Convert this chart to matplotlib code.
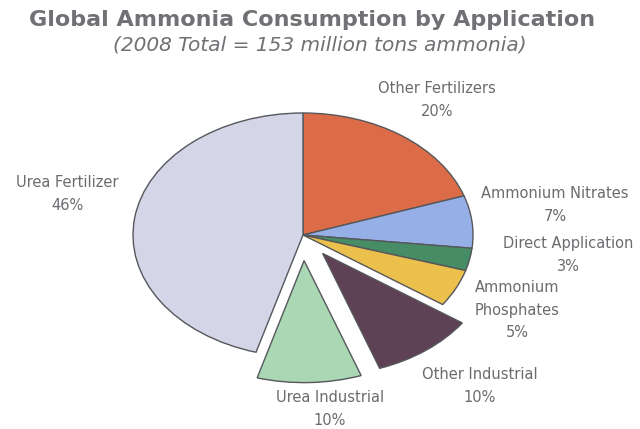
import matplotlib.pyplot as plt

# ammonia consumption shares (percent), clockwise from 12 o'clock
apps = ["Other Fertilizers", "Ammonium Nitrates", "Direct Application",
        "Ammonium Phosphates", "Other Industrial", "Urea Industrial",
        "Urea Fertilizer"]
shares = [20, 7, 3, 5, 10, 10, 46]
label_text = ["Other Fertilizers", "Ammonium Nitrates", "Direct Application",
              "Ammonium\nPhosphates", "Other Industrial", "Urea Industrial",
              "Urea Fertilizer"]

colors = ["#dc6c48", "#96afe6", "#468c64", "#ecc04c",
          "#5f4155", "#aad7b4", "#d4d6e8"]
explode = [0, 0, 0, 0, 0.19, 0.21, 0]

# label centres in pixels (x, y from top)
label_pos = [(437, 100), (555, 205), (568, 255), (517, 310),
             (480, 386), (330, 409), (67, 194)]

W, H = 640, 429
fig = plt.figure(figsize=(W / 100, H / 100), dpi=100)
fig.patch.set_facecolor("white")

ax = fig.add_axes([0, 0, 1, 1])
ax.pie(shares, colors=colors, explode=explode, startangle=90,
       counterclock=False,
       wedgeprops=dict(edgecolor="#55575c", linewidth=1.0))

# squash the pie into an ellipse: 1 unit = 170 px wide, 122 px tall
cx, cy = 303, 235
rx, ry = 170, 122
ax.set_aspect("auto")
ax.set_xlim(-cx / rx, (W - cx) / rx)
ax.set_ylim(-(H - cy) / ry, cy / ry)
ax.axis("off")

txt_color = "#6b6b70"
font = ["DejaVu Sans"]

for name, pct, (px, py) in zip(label_text, shares, label_pos):
    fig.text(px / W, 1 - py / H, f"{name}\n{pct}%", ha="center", va="center",
             fontsize=10.5, color=txt_color, family=font, linespacing=1.6,
             multialignment="center")

fig.text(312 / W, 1 - 20 / H, "Global Ammonia Consumption by Application",
         ha="center", va="center", fontsize=16, fontweight="bold",
         color="#707075", family=font)
fig.text(320 / W, 1 - 45 / H, "(2008 Total = 153 million tons ammonia)",
         ha="center", va="center", fontsize=14.5, style="italic",
         color="#707075", family=font)

fig.savefig("out.png", dpi=100)
